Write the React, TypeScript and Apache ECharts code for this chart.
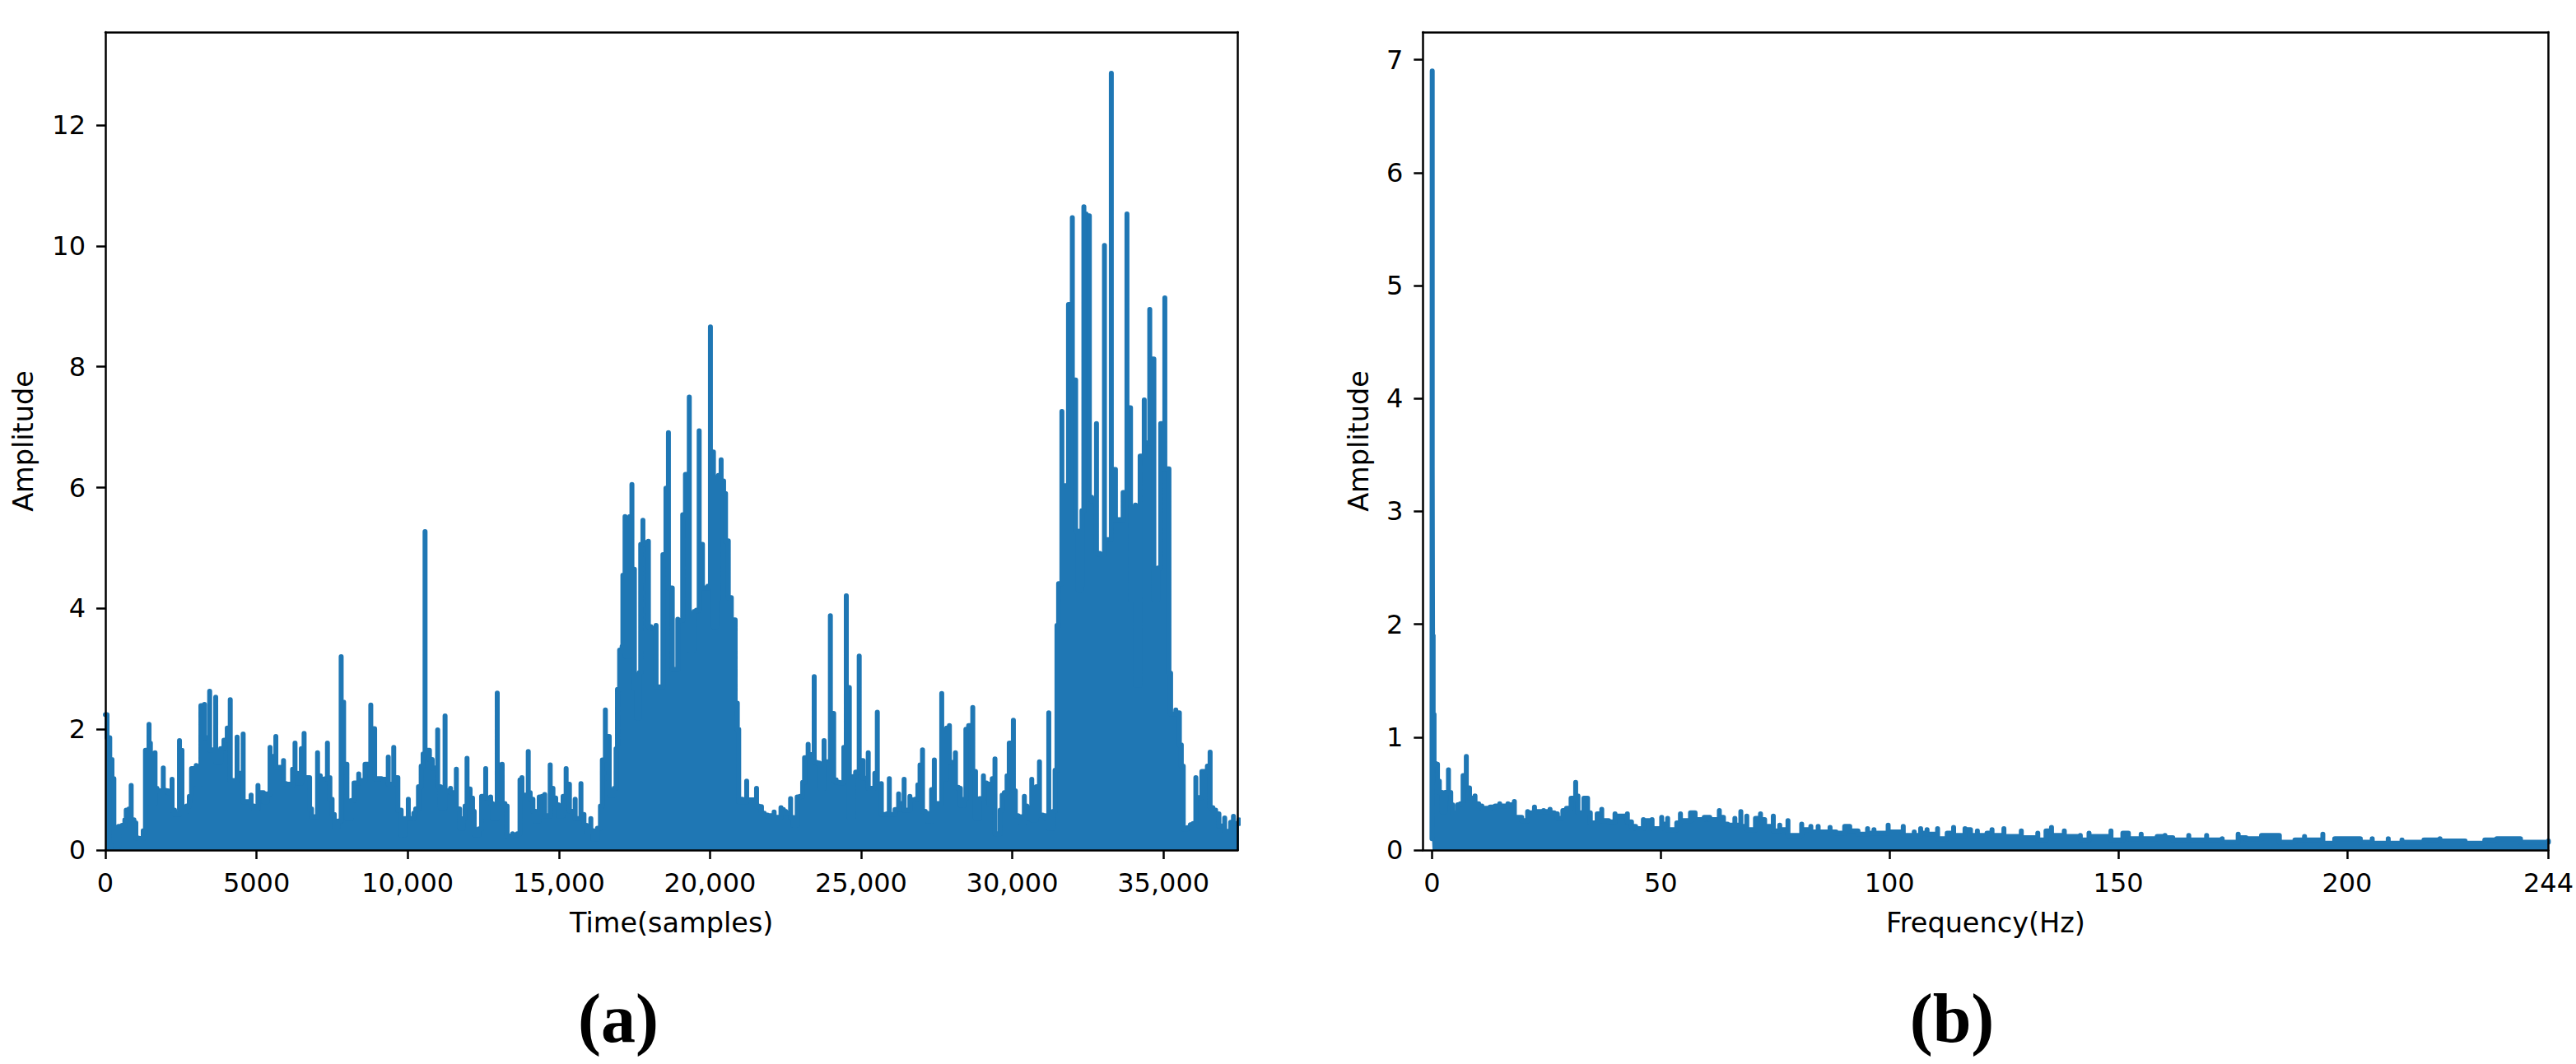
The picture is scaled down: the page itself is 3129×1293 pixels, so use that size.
import React, { useEffect, useRef } from "react";
import * as echarts from "echarts";

const BLUE = "#1f77b4";

const timeTicks = [0, 5000, 10000, 15000, 20000, 25000, 30000, 35000];
const timeTickLabels = ["0", "5000", "10,000", "15,000", "20,000", "25,000", "30,000", "35,000"];
const timeAmpTicks = [0, 2, 4, 6, 8, 10, 12];
const freqTicks = [0, 50, 100, 150, 200, 244];
const freqAmpTicks = [0, 1, 2, 3, 4, 5, 6, 7];

const timeSegmentA = [[0,2.24],[54,2.24],[145,1.86],[218,1.5],[281,1.18],[327,0.14],[372,0.05],[436,0.39],[554,0.41],[645,0.5],[690,0.66],[781,0.68],[854,1.07],[944,0.5],[1008,0.45],[1081,0.2],[1189,0.19],[1253,0.32],[1326,1.65],[1444,2.08],[1489,1.77],[1553,0.77],[1643,1.61],[1707,1.02],[1798,0.98],[1916,1.36],[1979,0.99],[2070,0.98],[2125,0.95],[2206,1.17],[2288,0.66],[2352,0.59],[2452,1.81],[2533,1.65],[2597,0.64],[2688,0.73],[2778,0.89],[2851,1.35],[3005,1.4],[3096,1.09],[3160,2.39],[3278,2.41],[3341,1.86],[3450,2.63],[3541,1.66],[3650,2.53],[3741,1.45],[3814,1.68],[3923,1.82],[4032,2.02],[4131,2.49],[4231,1.15],[4358,1.87],[4467,1.27],[4558,1.92],[4640,0.8],[4731,0.8],[4821,0.91],[4912,0.73],[4958,0.68],[5048,1.07],[5139,0.95],[5230,0.95],[5285,0.8],[5348,0.93],[5448,1.7],[5548,1.55],[5639,1.88],[5729,1.37],[5820,1.37],[5893,1.48],[5975,1.1],[6093,1.09],[6138,1.07],[6193,1.34],[6274,1.77],[6365,1.27],[6429,1.11],[6483,1.68],[6574,1.93],[6656,1.2],[6756,1.2],[6819,0.68],[6910,0.55],[7019,1.61],[7110,1.23],[7210,1.17],[7273,1.18],[7346,1.77],[7427,1.2],[7500,0.84],[7573,0.59],[7645,0.39],[7700,0.48],[7800,3.2],[7881,2.45],[7990,1.42],[8063,0.52],[8136,0.82],[8226,1.11],[8381,1.26],[8481,1.15],[8590,1.42],[8680,1.42],[8780,2.4],[8907,2.01],[8998,1.18]];
const timeSegmentB = [[9131,1.18],[9222,1.17],[9358,1.54],[9430,1.09],[9539,1.7],[9676,1.2],[9785,0.66],[9839,0.25],[9903,0.52],[10021,0.84],[10111,0.52],[10202,0.61],[10266,0.68],[10357,1.05],[10447,1.39],[10511,1.59],[10575,5.27],[10720,1.65],[10811,1.5],[10883,1.36],[10992,1.99],[11083,1.05],[11147,0.7],[11237,2.22],[11328,0.98],[11419,1.02],[11510,0.95],[11610,1.34],[11719,0.68],[11764,0.36],[11837,0.52],[11900,0.73],[11964,1.52],[12064,1.01],[12145,0.86],[12200,0.64],[12245,0.25],[12354,0.35],[12445,0.89],[12581,1.35],[12654,0.86],[12745,0.88],[12808,0.77],[12872,0.52],[12963,2.6],[13035,1.41],[13126,1.42],[13217,0.77],[13289,0.73],[13353,0.23],[13471,0.27],[13562,0.25],[13625,0.27],[13716,1.16],[13780,1.2],[13871,0.91],[13989,1.63],[14052,0.95],[14143,0.84],[14234,0.64],[14279,0.48],[14352,0.88],[14443,0.89],[14533,0.92],[14624,0.57],[14715,1.41],[14806,1.02],[14897,0.86],[14987,0.75],[15051,0.57],[15142,0.89],[15242,1.35],[15351,1.09],[15441,0.64],[15541,0.84],[15641,0.52],[15732,1.1],[15832,0.59],[15914,0.41],[15986,0.3],[16059,0.52],[16141,0.32],[16213,0.18],[16277,0.36],[16377,0.73],[16440,1.49],[16540,2.32],[16667,1.88],[16758,0.91],[16831,1.02],[16894,1.68],[16940,2.66],[17012,3.31],[17094,3.37]];
const timeSegmentC = [[17119,4.55],[17191,5.52],[17282,3.21],[17346,5.52],[17418,6.05],[17500,4.65],[17573,2.68],[17627,2.19],[17664,2.94],[17709,5.06],[17782,5.46],[17845,5.09],[17963,5.11],[18045,3.7],[18136,3.67],[18217,3.72],[18317,2.7],[18372,2.7],[18444,4.89],[18544,5.99],[18626,6.91],[18753,4.34],[18826,2.99],[18935,3.82],[19026,3.8],[19098,5.55],[19189,6.22],[19316,7.5],[19416,3.31],[19480,3.95],[19552,3.97],[19643,6.94],[19752,5.06],[19843,4.34],[19934,4.37],[20015,8.66],[20115,6.59],[20179,3.7],[20224,4.16],[20279,6.2],[20369,6.46],[20451,6.11],[20515,5.9],[20606,5.12],[20706,4.18],[20833,3.81],[20905,2.43],[20951,2.0],[21005,0.8],[21069,0.84],[21141,0.8],[21214,1.14],[21296,0.83],[21405,0.83],[21541,1.02],[21613,0.73],[21704,0.72],[21795,0.61],[21904,0.58],[22022,0.57],[22122,0.63],[22222,0.54],[22349,0.7],[22431,0.67],[22503,0.64],[22567,0.61],[22667,0.85],[22748,0.54],[22794,0.41],[22885,0.88],[22975,0.89],[23066,1.12],[23130,1.53],[23248,1.75],[23339,1.58],[23448,2.87],[23538,1.45],[23620,1.44],[23675,1.02],[23774,1.81],[23883,1.46],[23983,3.88],[24092,2.26],[24174,1.16],[24292,1.12],[24365,1.11],[24428,1.7],[24510,4.21],[24610,2.69],[24673,0.54],[24746,1.22],[24819,1.29],[24937,3.21],[25064,1.48],[25136,1.19],[25236,1.61],[25363,1.02],[25454,1.27],[25536,2.28],[25636,1.09]];
const timeSegmentD = [[25669,1.1],[25769,0.59],[25851,0.6],[25933,1.18],[26014,0.59],[26123,0.67],[26241,0.93],[26323,0.77],[26423,1.17],[26514,0.66],[26614,0.89],[26695,0.83],[26786,0.84],[26877,1.08],[26950,1.41],[27031,1.66],[27122,0.64],[27195,0.61],[27249,0.48],[27331,1.0],[27422,1.49],[27522,0.77],[27585,0.77],[27667,2.59],[27758,1.18],[27830,2.02],[27921,2.06],[28012,1.45],[28121,1.61],[28212,1.04],[28284,1.02],[28330,0.74],[28393,0.84],[28466,2.0],[28557,2.06],[28693,2.36],[28784,1.3],[28829,0.52],[28920,0.85],[29047,1.23],[29147,1.11],[29238,1.09],[29283,0.75],[29338,1.18],[29428,1.51],[29510,0.27],[29601,0.66],[29665,0.91],[29737,0.95],[29828,1.23],[29901,1.77],[30037,2.15],[30101,0.98],[30191,0.57],[30282,0.55],[30327,0.45],[30400,0.89],[30482,0.73],[30536,0.52],[30645,1.17],[30718,0.5],[30800,1.05],[30900,1.46],[31009,0.58],[31099,0.57],[31145,0.52],[31208,2.27],[31299,0.36],[31354,0.64],[31417,1.32]];
const timeSegmentE = [[31479,3.72],[31533,4.41],[31642,7.26],[31760,6.03],[31860,9.03],[31987,10.47],[32096,7.78],[32187,5.28],[32232,4.3],[32278,4.37],[32305,5.62],[32369,10.65],[32441,10.53],[32550,10.5],[32623,5.84],[32686,5.78],[32786,7.06],[32895,4.91],[32959,4.89],[33050,10.01],[33159,5.14],[33277,12.86],[33413,6.3],[33549,5.47],[33667,5.92],[33794,10.53],[33912,7.32],[34003,4.15],[34076,5.71],[34148,2.73],[34230,6.52],[34366,7.45],[34439,6.74],[34548,8.95],[34684,8.13],[34757,4.15],[34820,4.67],[34911,7.06],[35047,9.14],[35183,6.31],[35238,2.93],[35311,2.25],[35410,2.32],[35528,2.27],[35592,1.74],[35656,1.39],[35728,0.35],[35792,0.37],[35892,0.42],[35983,0.44],[36073,1.2],[36146,0.87],[36273,1.3],[36382,1.3],[36455,1.39],[36545,1.62],[36636,0.7],[36727,0.66],[36836,0.6],[36927,0.4],[37027,0.53],[37117,0.31],[37226,0.46],[37317,0.56],[37408,0.44],[37500,0.5]];

const freqSegmentA = [[0,0.1],[0.05,6.9],[0.12,3.4],[0.25,1.9],[0.45,1.2],[0.7,0.77],[1.2,0.76],[1.6,0.61],[2.2,0.51],[2.6,0.34],[2.9,0.51],[3.6,0.71],[4.1,0.51],[4.5,0.4],[5.0,0.33],[5.6,0.4],[6.2,0.41],[6.8,0.66],[7.5,0.83],[8.2,0.55],[8.8,0.46],[9.4,0.48],[10.2,0.41],[10.9,0.39],[11.8,0.37],[12.7,0.38],[13.8,0.39],[14.8,0.41],[15.7,0.39],[16.6,0.41],[17.4,0.4],[18.0,0.43],[18.6,0.29],[19.6,0.29],[20.4,0.26],[20.9,0.34],[21.6,0.33],[22.4,0.38],[23.2,0.34],[24.4,0.35],[25.2,0.34],[25.8,0.36],[26.7,0.33],[27.4,0.32],[28.0,0.28],[28.6,0.35],[29.4,0.37],[30.4,0.46],[31.4,0.6],[31.9,0.48],[32.5,0.33],[33.2,0.46],[34.0,0.46],[34.6,0.33],[35.5,0.24],[36.1,0.32],[37.1,0.36],[37.8,0.26],[38.6,0.26],[39.4,0.25],[40.0,0.32],[40.9,0.3],[41.8,0.3],[42.7,0.32],[43.6,0.25],[44.5,0.21],[45.3,0.19],[46.2,0.27],[47.2,0.26],[48.1,0.27],[49.0,0.19],[50.2,0.29],[50.8,0.23],[51.5,0.28],[52.6,0.18],[53.5,0.24],[54.3,0.32],[55.3,0.26],[56.5,0.33],[57.5,0.33],[58.3,0.27],[59.5,0.29],[60.7,0.29],[61.7,0.27],[62.8,0.35],[63.7,0.29],[64.6,0.23],[65.3,0.22],[66.2,0.28],[66.8,0.22],[67.5,0.34],[68.2,0.21],[68.8,0.3],[69.8,0.18],[70.7,0.28],[71.8,0.32],[72.7,0.27],[73.4,0.21]];
const freqSegmentB = [[74.6,0.3],[75.1,0.17],[76.0,0.22],[76.9,0.18],[77.8,0.26],[79.0,0.13],[80.8,0.23],[81.7,0.18],[82.8,0.21],[83.5,0.16],[84.4,0.21],[85.6,0.16],[87.0,0.2],[88.3,0.16],[89.5,0.15],[90.2,0.21],[91.3,0.21],[91.9,0.17],[93.1,0.17],[94.3,0.14],[95.2,0.19],[95.8,0.15],[96.6,0.18],[97.9,0.15],[99.7,0.22],[100.6,0.16],[103.0,0.21],[104.2,0.13],[105.4,0.16],[106.0,0.13],[106.8,0.19],[107.5,0.15],[108.2,0.18],[109.0,0.14],[110.5,0.19],[111.8,0.1],[112.6,0.15],[114.0,0.2],[114.9,0.13],[116.5,0.19],[117.7,0.18],[118.6,0.13],[119.2,0.17],[120.4,0.13],[121.3,0.15],[122.4,0.18],[123.4,0.13],[125.0,0.19],[126.4,0.12],[128.8,0.17],[130.0,0.11],[132.4,0.15],[133.3,0.09],[134.2,0.17],[135.4,0.2],[136.6,0.13],[138.2,0.17],[139.9,0.12],[141.7,0.13],[142.9,0.09],[143.6,0.15],[145.3,0.12],[146.8,0.12],[148.4,0.17],[149.8,0.09],[151.0,0.15],[152.2,0.15],[153.4,0.1]];
const freqSegmentC = [[155.0,0.14],[156.7,0.1],[158.5,0.12],[160.2,0.13],[161.9,0.11],[163.6,0.09],[165.4,0.13],[167.5,0.09],[169.3,0.13],[171.0,0.09],[172.7,0.1],[174.9,0.07],[176.2,0.14],[177.9,0.11],[179.6,0.1],[181.3,0.13],[183.1,0.13],[185.2,0.13],[186.9,0.07],[188.6,0.09],[190.7,0.12],[192.6,0.09],[194.7,0.14],[195.8,0.06],[197.3,0.1],[200.8,0.1],[202.9,0.1],[204.2,0.07],[205.5,0.1],[207.7,0.06],[209.0,0.1],[210.3,0.06],[212.0,0.09],[214.6,0.07],[216.8,0.09],[218.5,0.09],[220.3,0.1],[222.8,0.08],[225.8,0.08],[227.1,0.06],[230.1,0.09],[232.7,0.1],[234.9,0.1],[237.9,0.1],[240.5,0.07],[243.1,0.07],[244,0.08]];

// Each reading is a vertical stroke of the dense signal: the silhouette is the union of those strokes.
function rods(points: number[][]) {
  const out: number[][] = [points[0]];
  for (let i = 1; i < points.length; i++) {
    const [x0, y0] = points[i - 1];
    const [x1, y1] = points[i];
    out.push(y0 > y1 ? [x0, y1] : [x1, y0]);
    out.push([x1, y1]);
  }
  return out;
}

const timeTrace = rods([...timeSegmentA, ...timeSegmentB, ...timeSegmentC, ...timeSegmentD, ...timeSegmentE]);
const freqTrace = rods([...freqSegmentA, ...freqSegmentB, ...freqSegmentC]);

const FONT = "DejaVu Sans";
const label = { fontFamily: FONT, fontSize: 32, color: "#000" };

function frameAxis(gridIndex: number, position: string, min: number, max: number) {
  return {
    type: "value", gridIndex, position, min, max, silent: true,
    axisLine: { show: true, onZero: false, lineStyle: { color: "#000", width: 2.5 } },
    axisTick: { show: false }, axisLabel: { show: false }, splitLine: { show: false }, z: 5,
  };
}

function mainAxis(gridIndex: number, position: string, min: number, max: number, ticks: number[], name: string, nameGap: number, fmt: (v: number) => string) {
  return {
    type: "value", gridIndex, position, min, max, silent: true,
    name, nameLocation: "middle", nameGap,
    nameTextStyle: { fontFamily: FONT, fontSize: 33.5, color: "#000" },
    axisLine: { show: true, onZero: false, lineStyle: { color: "#000", width: 2.5 } },
    axisTick: { show: true, length: 11, customValues: ticks, lineStyle: { color: "#000", width: 2.5 } },
    axisLabel: { ...label, margin: 24, customValues: ticks, formatter: fmt, showMinLabel: true, showMaxLabel: true, hideOverlap: false },
    splitLine: { show: false }, z: 5,
  };
}

function trace(xAxisIndex: number, yAxisIndex: number, data: number[][]) {
  return {
    type: "line", xAxisIndex, yAxisIndex, data, silent: true,
    showSymbol: false, symbol: "none",
    lineStyle: { color: BLUE, width: 6, cap: "round", join: "round" },
    areaStyle: { color: BLUE, opacity: 1 }, z: 2,
  };
}

const XMAX_A = 37460, YMAX_A = 13.54, XMIN_B = -2, XMAX_B = 244, YMAX_B = 7.245;

export default function App() {
  const ref = useRef<HTMLDivElement>(null);
  useEffect(() => {
    const chart = echarts.init(ref.current!, undefined, { renderer: "svg" });
    chart.setOption({
      animation: false,
      backgroundColor: "#fff",
      title: [
        { text: "(a)", left: 746, top: 1190, textAlign: "center", textStyle: { fontFamily: "Liberation Serif", fontWeight: "bold", fontSize: 84, color: "#000" } },
        { text: "(b)", left: 2366, top: 1190, textAlign: "center", textStyle: { fontFamily: "Liberation Serif", fontWeight: "bold", fontSize: 84, color: "#000" } },
      ],
      grid: [
        { left: 128, top: 39, width: 1375.5, height: 994 },
        { left: 1728.3, top: 39, width: 1368.7, height: 994 },
      ],
      xAxis: [
        mainAxis(0, "bottom", 0, XMAX_A, timeTicks, "Time(samples)", 71, (v) => timeTickLabels[timeTicks.indexOf(v)] ?? ""),
        frameAxis(0, "top", 0, XMAX_A),
        mainAxis(1, "bottom", XMIN_B, XMAX_B, freqTicks, "Frequency(Hz)", 71, (v) => String(v)),
        frameAxis(1, "top", XMIN_B, XMAX_B),
      ],
      yAxis: [
        mainAxis(0, "left", 0, YMAX_A, timeAmpTicks, "Amplitude", 83, (v) => String(v)),
        frameAxis(0, "right", 0, YMAX_A),
        mainAxis(1, "left", 0, YMAX_B, freqAmpTicks, "Amplitude", 61, (v) => String(v)),
        frameAxis(1, "right", 0, YMAX_B),
      ],
      series: [trace(0, 0, timeTrace), trace(2, 2, freqTrace)],
    });
    return () => chart.dispose();
  }, []);
  return <div ref={ref} style={{ position: "fixed", left: 0, top: 0, width: 3129, height: 1293 }} />;
}
